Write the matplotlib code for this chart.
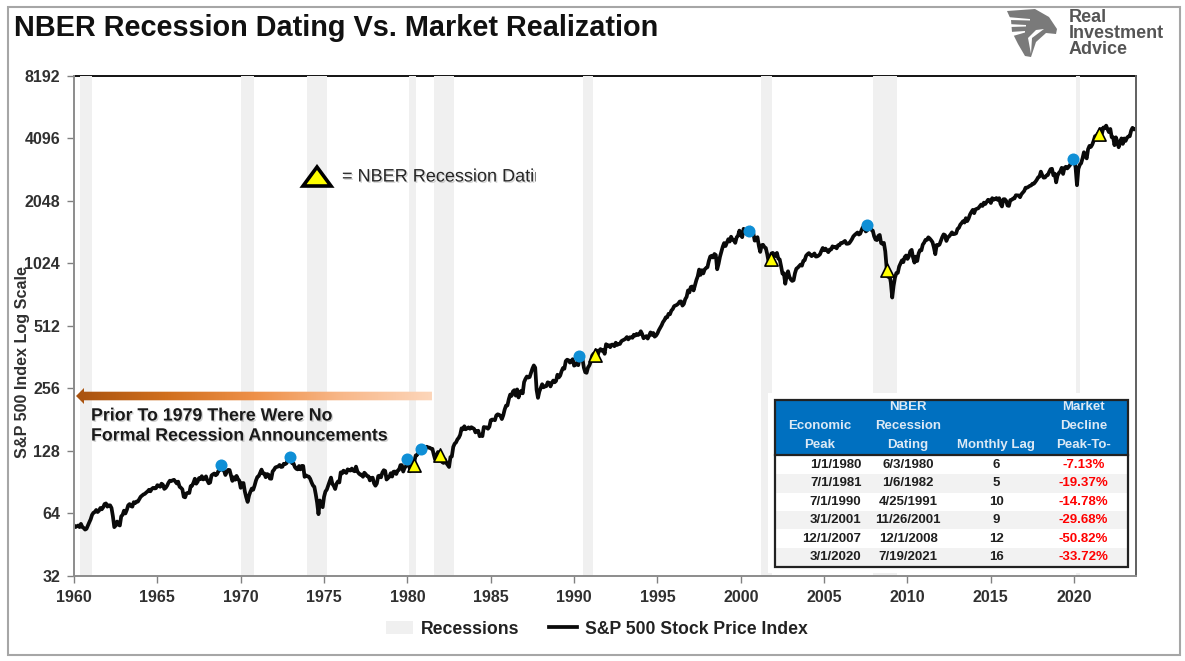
import numpy as np
import matplotlib
matplotlib.use("Agg")
import matplotlib.pyplot as plt
import matplotlib.patheffects as pe
from matplotlib.lines import Line2D
from matplotlib.patches import Patch, Polygon, Rectangle
from matplotlib.colors import LinearSegmentedColormap
from matplotlib.ticker import FixedLocator, FixedFormatter, NullLocator

SANS = ["Liberation Sans", "DejaVu Sans"]
plt.rcParams["font.family"] = SANS

START_YEAR = 1960
sp500_values = [
 56,55,55.5,56,55,57,55,54.5,53.5,54,56,58,
 60,63,64.5,65,66.5,65,66,68,67,68.5,71,71.5,
 69,70,70,68,62,55,56,58.5,56.5,56,62,63,
 66,64,66.5,70,71,69.4,69,72.5,71.7,73,73,75,
 77,78,79,79.5,80.7,81.7,83.2,81.8,84,85,84.4,84.7,
 87.5,87,86,89,88,84,85,87,89.9,92,91.6,92.4,
 92.9,91,89.2,91,86,85,83.6,77,76.5,80,80.4,80.3,
 86.6,87,90,94,89,91,94.7,93.6,96.7,93.3,94,96.5,
 92.2,89.4,90.2,97.5,98.7,99.6,97.7,98.9,102.7,103.4,108.4,103.9,
 103,98,101.5,103.7,103.5,97.7,91.8,95.5,93,97,93.8,92,
 85,89.5,89.6,81.5,76.5,72.7,78,81.5,84.3,83.2,87.2,92.2,
 95.9,96.8,100.3,104,99.6,99.7,95.6,99,98.3,94.2,94,102,
 103.9,106.6,107.2,107.7,109.5,107.1,107.4,111,110.6,111.6,116.7,118,
 116,111.7,111.5,107,105,104.3,108.2,104.3,108.4,108.3,96,97.6,
 96.6,96.2,94,90.3,87.3,86,79.3,72.2,63.5,73.9,70,68.6,
 77,81.6,83.4,87.3,91.2,95.2,88.8,86.9,83.9,89,91.2,90.2,
 100.9,99.7,102.8,101.6,100.2,104.3,103.4,102.9,105.2,102.9,102.1,107.5,
 102,99.8,98.4,98.4,96.1,100.5,98.9,96.8,96.5,92.3,94.8,95.1,
 89.3,87,89.2,96.8,97.3,95.5,100.7,103.3,102.5,93.2,94.7,96.1,
 99.9,96.3,101.6,101.8,99.1,102.9,103.8,109.3,109.3,101.8,106.2,107.9,
 114.2,113.7,102.1,106.3,111.2,114.2,121.7,122.4,125.5,127.5,135,133,
 129.6,131.3,134,132.8,132.6,131.2,130.9,122.8,116.2,121.9,126.4,122.6,
 120.4,113.1,112,116.4,111.9,109.6,107.1,119.5,120.4,133.7,138.5,140.6,
 145.3,148.1,153,164.4,162.4,168.1,162.6,164.4,166.1,163.6,166.4,164.9,
 163.4,157.1,159.2,160,150.6,153.2,150.7,166.7,166.1,166.1,163.6,167.2,
 179.6,181.2,180.7,179.8,189.6,191.9,190.9,188.6,182.1,189.8,202.2,211.3,
 211.8,226.9,238.9,235.5,247.4,250.8,236.1,252.9,231.3,244,249.2,242.2,
 274.1,284.2,291.7,288.4,290.1,304,318.7,329.8,321.8,251.8,230.3,247.1,
 257,267.8,258.9,261.3,262.2,273.5,272,261.5,271.9,279,273.7,277.7,
 297.5,288.9,294.9,309.6,320.5,318,346.1,351.5,349.2,340.4,346,353.4,
 329.1,331.9,339.9,330.8,361.2,358,356.2,322.6,306,304,322.2,330.2,
 343.9,367.1,375.2,375.3,389.8,371.2,387.8,395.4,387.9,392.5,375.2,417.1,
 408.8,412.7,403.7,415,415.4,408.1,424.2,414,417.8,418.7,431.4,435.7,
 438.8,443.4,451.7,440.2,450.2,450.5,448.1,463.6,458.9,467.8,461.8,466.5,
 481.6,467.1,445.8,450.9,456.5,444.3,458.3,475.5,462.7,472.4,453.7,459.3,
 470.4,487.4,500.7,514.7,533.4,544.8,562.1,561.9,584.4,581.5,605.4,615.9,
 636,640.4,645.5,654.2,669.1,670.6,640,652,687.3,705.3,757,740.7,
 786.2,790.8,757.1,801.3,848.3,885.1,954.3,899.5,947.3,914.6,955.4,970.4,
 980.3,1049.3,1101.8,1111.8,1090.8,1133.8,1120.7,957.3,1017,1098.7,1163.6,1229.2,
 1279.6,1238.3,1286.4,1335.2,1301.8,1372.7,1328.7,1320.4,1282.7,1362.9,1388.9,1469.3,
 1394.5,1366.4,1498.6,1452.4,1420.6,1454.6,1430.8,1517.7,1436.5,1429.4,1315,1320.3,
 1366,1239.9,1160.3,1249.5,1255.8,1224.4,1211.2,1133.6,1040.9,1059.8,1139.5,1148.1,
 1130.2,1106.7,1147.4,1076.9,1067.1,989.8,911.6,916.1,815.3,885.8,936.3,879.8,
 855.7,841.2,848.2,916.9,963.6,974.5,990.3,1008,996,1050.7,1058.2,1111.9,
 1131.1,1144.9,1126.2,1107.3,1120.7,1140.8,1101.7,1104.2,1114.6,1130.2,1173.8,1211.9,
 1181.3,1203.6,1180.6,1156.9,1191.5,1191.3,1234.2,1220.3,1228.8,1207,1249.5,1248.3,
 1280.1,1280.7,1294.9,1310.6,1270.1,1270.2,1276.7,1303.8,1335.9,1377.9,1400.6,1418.3,
 1438.2,1406.8,1420.9,1482.4,1530.6,1503.4,1455.3,1474,1526.8,1549.4,1481.1,1468.4,
 1378.6,1330.6,1322.7,1385.6,1400.4,1280,1267.4,1282.8,1166.4,968.8,880,903.3,
 825.9,700,797.9,872.8,919.1,919.3,987.5,1020.6,1057.1,1036.2,1095.6,1115.1,
 1073.9,1104.5,1169.4,1186.7,1089.4,1030.7,1101.6,1049.3,1141.2,1183.3,1180.6,1257.6,
 1286.1,1327.2,1325.8,1363.6,1345.2,1320.6,1292.3,1218.9,1131.4,1253.3,1247,1257.6,
 1312.4,1365.7,1408.5,1397.9,1310.3,1362.2,1379.3,1406.6,1440.7,1412.2,1416.2,1426.2,
 1498.1,1514.7,1569.2,1597.6,1630.7,1606.3,1685.7,1633,1681.6,1756.5,1805.8,1848.4,
 1782.6,1859.5,1872.3,1884,1923.6,1960.2,1930.7,2003.4,1972.3,2018,2067.6,2058.9,
 1995,2104.5,2067.9,2085.5,2107.4,2063.1,2103.8,1972.2,1920,2079.4,2080.4,2043.9,
 1940.2,1932.2,2059.7,2065.3,2097,2098.9,2173.6,2171,2168.3,2126.2,2199,2238.8,
 2278.9,2363.6,2362.7,2384.2,2411.8,2423.4,2470.3,2471.7,2519.4,2575.3,2647.6,2673.6,
 2823.8,2713.8,2640.9,2648,2705.3,2718.4,2816.3,2901.5,2914,2711.7,2760.2,2506.9,
 2704.1,2784.5,2834.4,2945.8,2752.1,2941.8,2980.4,2926.5,2976.7,3037.6,3141,3230.8,
 3225.5,2954.2,2430,2912.4,3044.3,3100.3,3271.1,3500.3,3363,3270,3621.6,3756.1,
 3714.2,3811.2,3972.9,4181.2,4204.1,4297.5,4395.3,4522.7,4307.5,4605.4,4567,4700,
 4515.6,4373.9,4530.4,4131.9,4132.2,3785.4,4130.3,3955,3700,3872,4080.1,3839.5,
 4076.6,3970.2,4109.3,4169.5,4179.8,4450.4,4589,4507.7,4520,
]
recession_starts = [1960.33, 1970.0, 1973.95, 1980.1, 1981.6, 1990.55, 2001.2, 2007.95, 2020.1]
recession_ends   = [1961.1, 1970.8, 1975.15, 1980.5, 1982.8, 1991.15, 2001.85, 2009.4, 2020.35]
peak_years  = [1968.82, 1972.96, 1980.0, 1980.8, 1990.3, 2000.5, 2007.6, 2019.9]
peak_values = [109, 119.6, 117, 130, 367, 1459, 1559, 3236]
dating_years  = [1980.4, 1981.97, 1991.25, 2001.8, 2008.77, 2021.47]
dating_values = [109, 122, 370, 1070, 947, 4270]
y_ticks = [32, 64, 128, 256, 512, 1024, 2048, 4096, 8192]
x_ticks = list(range(1960, 2021, 5))

table_headers = ["Economic\nPeak", "NBER\nRecession\nDating", "Monthly Lag", "Market\nDecline\nPeak-To-"]
economic_peak = ["1/1/1980", "7/1/1981", "7/1/1990", "3/1/2001", "12/1/2007", "3/1/2020"]
nber_dating = ["6/3/1980", "1/6/1982", "4/25/1991", "11/26/2001", "12/1/2008", "7/19/2021"]
monthly_lag = ["6", "5", "10", "9", "12", "16"]
market_decline = ["-7.13%", "-19.37%", "-14.78%", "-29.68%", "-50.82%", "-33.72%"]

W, H = 1185, 661
fig = plt.figure(figsize=(W / 100, H / 100), dpi=100, facecolor="white")
L, R, T, B = 74, 1136, 75.5, 576
ax = fig.add_axes([L / W, 1 - B / H, (R - L) / W, (B - T) / H])
ax.set_yscale("log", base=2)
ax.set_ylim(32, 8192)
ax.set_xlim(1960, 1960 + (R - L) / 16.67)

dates = START_YEAR + np.arange(len(sp500_values)) / 12
for s, e in zip(recession_starts, recession_ends):
    ax.axvspan(s, e, color="#f0f0f0", lw=0, zorder=3)
ax.plot(dates, sp500_values, color="#0a0a0a", lw=2.7, zorder=4, solid_joinstyle="round")
ax.scatter(peak_years, peak_values, s=75, color="#0f8fd6", lw=0, zorder=5)
ax.scatter(dating_years, dating_values, s=90, marker="^", facecolor="#ffff00", edgecolor="black", lw=1.2, zorder=6)

ax.yaxis.set_major_locator(FixedLocator(y_ticks))
ax.yaxis.set_major_formatter(FixedFormatter([str(v) for v in y_ticks]))
ax.yaxis.set_minor_locator(NullLocator())
ax.set_xticks(x_ticks)
ax.set_xticklabels([str(v) for v in x_ticks])
ax.tick_params(axis="both", which="major", length=5, width=1, color="#808080",
               labelcolor="#303030", pad=5)
for lab in ax.get_xticklabels() + ax.get_yticklabels():
    lab.set_fontweight("bold")
    lab.set_fontsize(11.5)
ax.spines["top"].set(color="black", lw=1.3, zorder=2)
for side, col in [("left", "#8c8c8c"), ("bottom", "#8c8c8c"), ("right", "#606060")]:
    ax.spines[side].set(color=col, lw=1.4, zorder=7)

ax.set_ylabel("S&P 500 Index Log Scale", fontsize=11.6, fontweight="bold", color="#303030")
ax.yaxis.set_label_coords((30 - L) / (R - L), (B - 362) / (B - T))
ax.set_title("NBER Recession Dating Vs. Market Realization", loc="left", fontsize=20.8,
             fontweight="bold", color="#111111", x=(14 - L) / (R - L), y=(B - 36) / (B - T), pad=0)

handles = [Patch(facecolor="#f0f0f0", edgecolor="none", label="Recessions"),
           Line2D([0], [0], color="#0a0a0a", lw=2.7, label="S&P 500 Stock Price Index")]
fig.legend(handles=handles, loc="center", bbox_to_anchor=(596.5 / W, 1 - 629 / H), ncol=2, frameon=False,
           prop={"weight": "bold", "size": 12.7, "family": SANS}, labelcolor="#222222",
           handlelength=1.55, handletextpad=0.45, columnspacing=1.7, handleheight=0.7)

# Pixel-space overlay for annotations, table, frame and logo
ov = fig.add_axes([0, 0, 1, 1], zorder=10)
ov.set_xlim(0, W)
ov.set_ylim(H, 0)
ov.axis("off")
ov.patch.set_alpha(0)

ov.add_patch(Rectangle((8, 6.5), 1172, 648.5, fill=False, ec="#a6a6a6", lw=1.5))

# gradient arrow
cmap = LinearSegmentedColormap.from_list("arr", ["#a8520f", "#d06f1e", "#ee9048", "#f8b88a", "#fdd6ba"])
img = ov.imshow(np.linspace(0, 1, 256)[None, :], extent=(76, 432, 404, 388), cmap=cmap, aspect="auto", zorder=2)
arrow_clip = Polygon([(76, 396), (84, 388), (84, 391.7), (432, 391.7), (432, 400.3), (84, 400.3), (84, 404)],
                     closed=True, transform=ov.transData, fc="none", ec="none")
ov.add_patch(arrow_clip)
img.set_clip_path(arrow_clip)
ov.set_xlim(0, W)
ov.set_ylim(H, 0)
soft = [pe.withSimplePatchShadow(offset=(1, -1), alpha=0.25, shadow_rgbFace="#555555")]
ov.text(91, 416, "Prior To 1979 There Were No", fontsize=12.8, fontweight="bold", color="#1a1a1a",
        va="center", path_effects=soft)
ov.text(91, 436, "Formal Recession Announcements", fontsize=12.8, fontweight="bold", color="#1a1a1a",
        va="center", path_effects=soft)

# key
ov.add_patch(Polygon([(317, 167), (303, 186), (331, 186)], closed=True, fc="#ffff00", ec="black", lw=2.6))
key = ov.text(342, 177, "= NBER Recession Dating", fontsize=13, color="#262626", va="center", path_effects=soft)
key.set_clip_path(Rectangle((342, 150), 194, 50, transform=ov.transData))
key.set_clip_on(True)

# table
ov.add_patch(Rectangle((768, 393), 367, 180, fc="white", ec="none", zorder=1))
tl, tr, tt, th, tb = 775, 1128, 400, 455, 567
ov.add_patch(Rectangle((tl, tt), tr - tl, th - tt, fc="#0070c0", ec="none", zorder=2))
row0, dy = 465, 18.4
for i in range(len(economic_peak)):
    y = row0 + i * dy
    if i % 2 == 1:
        ov.add_patch(Rectangle((tl, y - dy / 2), tr - tl, dy, fc="#f2f2f2", ec="none", zorder=2))
    kw = dict(fontsize=9.5, fontweight="bold", va="center", zorder=3, color="#1f1f1f")
    ov.text(861.5, y, economic_peak[i], ha="right", **kw)
    ov.text(908, y, nber_dating[i], ha="center", **kw)
    ov.text(996, y, monthly_lag[i], ha="center", **kw)
    kw["color"] = "#ff0000"
    ov.text(1083.6, y, market_decline[i], ha="center", **kw)
ov.add_patch(Rectangle((tl, tt), tr - tl, tb - tt, fill=False, ec="#222222", lw=1.6, zorder=4))
ov.plot([tl, tr], [th, th], color="#222222", lw=1.6, zorder=4)
head_x = [820, 908, 996, 1083.6]
header_rows = [407.5, 426, 445]
for x, h in zip(head_x, table_headers):
    lines = h.split("\n")
    for ln, y in zip(lines, header_rows[-len(lines):]):
        ov.text(x, y, ln, ha="center", va="center", fontsize=9.5, fontweight="bold", color="#dce9f5", zorder=3)

# logo
ov.add_patch(Polygon([(1007, 11), (1035, 9), (1049, 17), (1057, 29), (1056, 34), (1046, 33), (1036, 42),
                      (1031, 57), (1025, 56), (1018, 44), (1012, 32), (1011, 20)],
                     closed=True, fc="#7a7a7a", ec="none"))
for pts in ([(1007, 17), (1030, 19), (1030, 20.5), (1009, 20)],
            [(1008, 24), (1026, 25), (1026, 26.5), (1010, 27)],
            [(1010, 32), (1025, 31), (1025, 32.5), (1013, 36)],
            [(1031, 54), (1032, 38), (1044, 29), (1036, 30), (1028, 38)]):
    ov.add_patch(Polygon(pts, closed=True, fc="white", ec="none"))
for y, word in zip([17.5, 33.5, 49], ["Real", "Investment", "Advice"]):
    ov.text(1069, y, word, fontsize=13, fontweight="bold", color="#555555", va="center")

fig.savefig("out.png", dpi=100, facecolor="white")
